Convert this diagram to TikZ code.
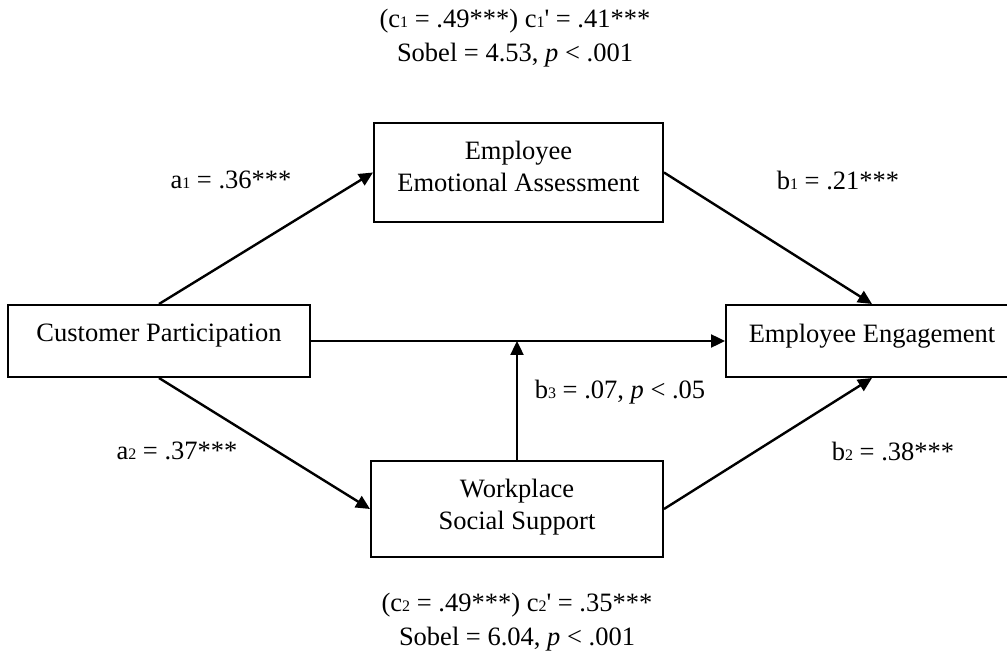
\documentclass[tikz,border=0pt]{standalone}
\usepackage{fontspec}
\setmainfont{Liberation Serif}
\usetikzlibrary{arrows.meta,positioning}
\newcommand{\ix}[1]{{\fontsize{8}{9}\selectfont #1}}
\newcommand{\lift}[1]{\rule[-#1]{0pt}{0pt}}

\begin{document}
\begin{tikzpicture}[x = .5pt, y = -.5pt,
    box/.style = {draw, line width = 1pt, inner sep = 0pt, align = center},
    arr/.style = {-{Triangle[length = 7pt, width = 6.5pt]}, line width = 1.2pt},
    stat/.style = {align = center, font = \fontsize{13.25}{17}\selectfont},
    font = \fontsize{13.25}{16}\selectfont]
    \useasboundingbox (0,0) rectangle (1007,652);
    \node[box, minimum width = 151pt, minimum height = 36pt] (cp) at (159,341) {Customer Participation\lift{8pt}};
    \node[box, minimum width = 144.5pt, minimum height = 49.5pt] (eea) at (518.5,172.5) {Employee\\Emotional Assessment\lift{6.5pt}};
    \node[box, minimum width = 146pt, minimum height = 36pt] (ee) at (872,341) {Employee Engagement\lift{8pt}};
    \node[box, minimum width = 146pt, minimum height = 48pt] (wss) at (517,509) {Workplace\\Social Support\lift{4.5pt}};
    \draw[arr] (cp.north) -- (eea.west);
    \draw[arr] (eea.east) -- (ee.north);
    \draw[arr] (cp.south) -- (wss.west);
    \draw[arr] (wss.east) -- (ee.south);
    \draw[arr] (cp.east) -- (ee.west);
    \coordinate (mid) at (wss.north |- cp.east);
    \draw[arr] (wss.north) -- (mid);
    % path coefficients
    \node (a1) at (231,180) {a\ix{1} = .36***};
    \node (b1) at (838,180) {b\ix{1} = .21***};
    \node (a2) at (177,451) {a\ix{2} = .37***};
    \node (b2) at (893,451) {b\ix{2} = .38***};
    \node (b3) at (620,392) {b\ix{3} = .07, \textit{p} < .05};
    % indirect effects
    \node[stat] (s1) at (515,38) {(c\ix{1} = .49***) c\ix{1}\textquotesingle{} = .41***\\Sobel = 4.53, \textit{p} < .001};
    \node[stat] (s2) at (517,622) {(c\ix{2} = .49***) c\ix{2}\textquotesingle{} = .35***\\Sobel = 6.04, \textit{p} < .001};
\end{tikzpicture}
\end{document}
